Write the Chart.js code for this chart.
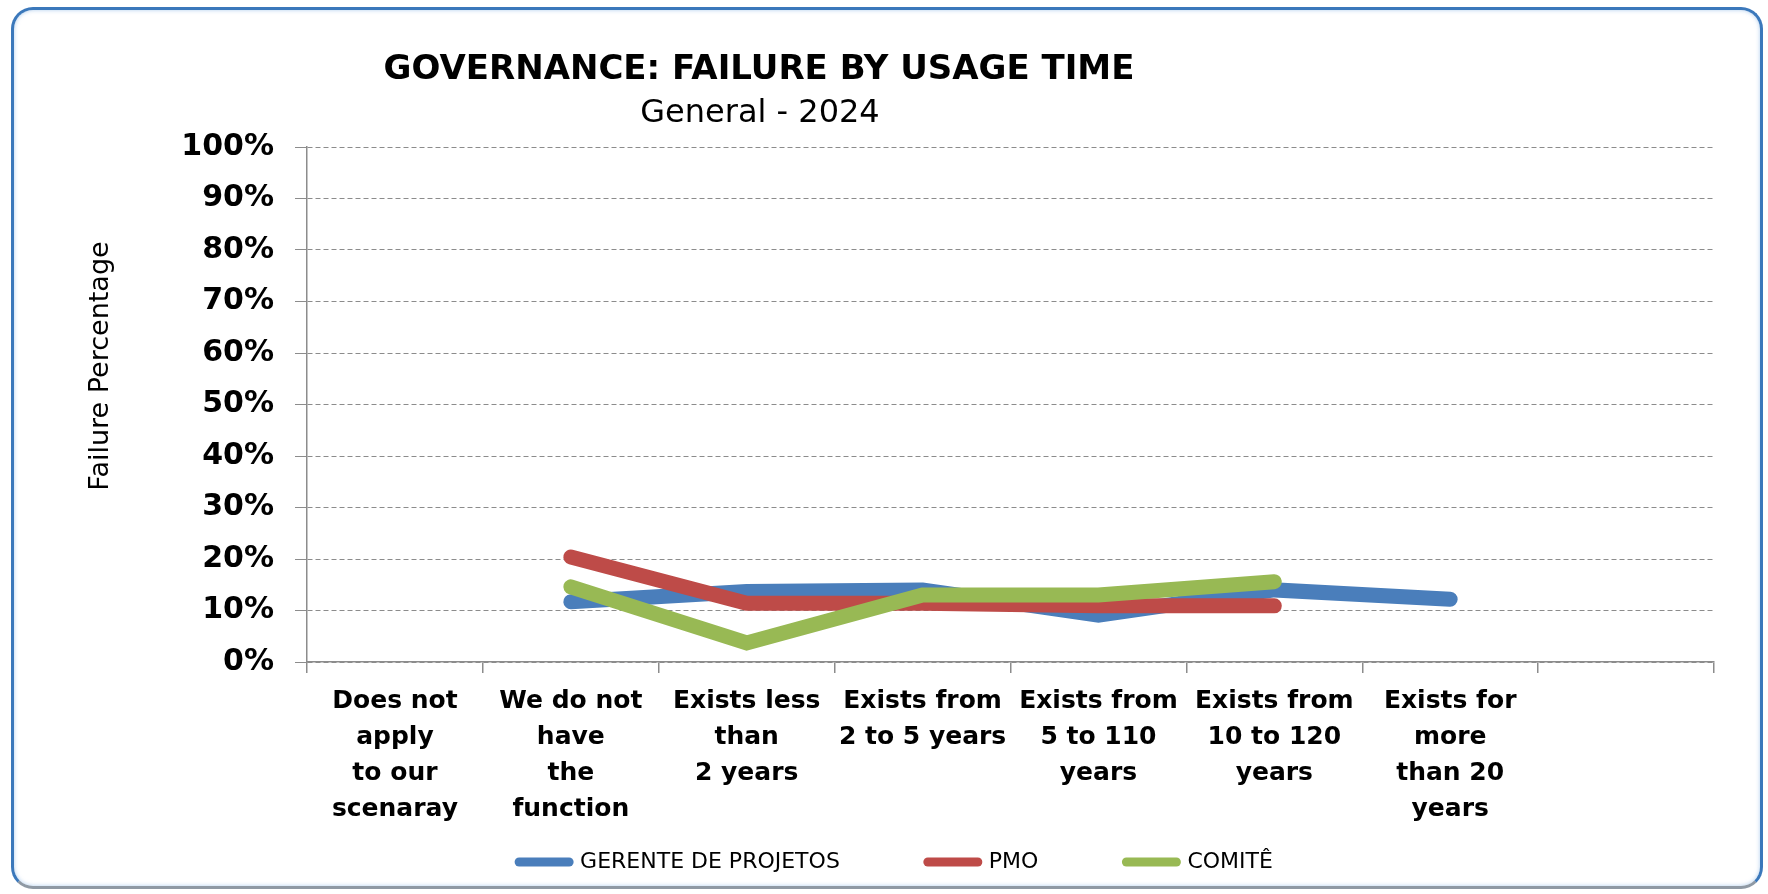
<!DOCTYPE html>
<html>
<head>
<meta charset="utf-8">
<script src="https://cdn.jsdelivr.net/npm/chart.js@4.4.1/dist/chart.umd.min.js"></script>
<style>
  body { margin: 0; background: #fff; }
  #wrap { position: relative; width: 1768px; height: 894px; }
  #frame {
    position: absolute; left: 11px; top: 7px; width: 1746px; height: 876px;
    border: 3px solid #3b78bb; border-bottom-color: #8f99a4; border-radius: 22px;
    box-shadow: inset 0 0 4px rgba(120, 170, 225, 0.6); pointer-events: none;
  }
</style>
</head>
<body>
<div id="wrap">
  <canvas id="chart"></canvas>
  <div id="frame"></div>
</div>
<script>
const categories = [
    ['Does not', 'apply', 'to our', 'scenaray'],
    ['We do not', 'have', 'the', 'function'],
    ['Exists less', 'than', '2 years'],
    ['Exists from', '2 to 5 years'],
    ['Exists from', '5 to 110', 'years'],
    ['Exists from', '10 to 120', 'years'],
    ['Exists for', 'more', 'than 20', 'years'],
    ''
];
const gerente = [null, 11.7, 13.7, 14.0, 9.1, 14.0, 12.2, null];
const pmo = [null, 20.4, 11.4, 11.4, 10.9, 10.9, null, null];
const comite = [null, 14.6, 3.7, 13.0, 13.0, 15.6, null, null];
const seriesNames = ['GERENTE DE PROJETOS', 'PMO', 'COMITÊ'];
const seriesColors = ['#4a7ebb', '#be4b48', '#98b954'];

const chartTitle = 'GOVERNANCE: FAILURE BY USAGE TIME';
const chartSubtitle = 'General - 2024';
const yAxisTitle = 'Failure Percentage';

const FONT = 'DejaVu Sans';
const GRID = '#8c8c8c';
const LEGEND_Y = 862;

// title, subtitle and the y axis title sit off-centre in the original
const chartText = {
    id: 'chartText',
    afterDraw(chart) {
        const ctx = chart.ctx;
        ctx.save();
        ctx.fillStyle = '#000';
        ctx.textAlign = 'center';
        ctx.textBaseline = 'middle';
        ctx.font = `bold 34px "${FONT}"`;
        ctx.fillText(chartTitle, 759, 70);
        ctx.font = `32px "${FONT}"`;
        ctx.fillText(chartSubtitle, 760, 114);
        ctx.translate(101, 366);
        ctx.rotate(-Math.PI / 2);
        ctx.font = `27px "${FONT}"`;
        ctx.fillText(yAxisTitle, 0, 0);
        ctx.restore();
    }
};

// wide gaps between legend items need a big padding; keep the box short and put the row where it belongs
const legendPlace = {
    id: 'legendPlace',
    beforeLayout(chart) {
        const lg = chart.legend;
        if (lg && !lg._patched) {
            const fit = lg.fit;
            lg.fit = function () { fit.call(this); this.height = 57; };
            lg._patched = true;
        }
    },
    afterLayout(chart) {
        const lg = chart.legend;
        const pad = lg.options.labels.padding;
        lg.top = LEGEND_Y - 11 - pad;
        lg.bottom = chart.height;
        lg.height = lg.bottom - lg.top;
    }
};

function makeSet(i, data, order) {
    return {
        label: seriesNames[i],
        data: data,
        borderColor: seriesColors[i],
        backgroundColor: seriesColors[i],
        borderWidth: 15,
        borderCapStyle: 'round',
        tension: 0,
        pointRadius: 0,
        order: order
    };
}

new Chart(document.getElementById('chart').getContext('2d'), {
    type: 'line',
    data: {
        labels: categories,
        datasets: [makeSet(0, gerente, 2), makeSet(1, pmo, 1), makeSet(2, comite, 0)]
    },
    options: {
        responsive: true,
        maintainAspectRatio: false,
        animation: false,
        events: [],
        layout: { padding: { left: 78, top: 147, right: 54, bottom: 0 } },
        plugins: {
            title: { display: false },
            tooltip: { enabled: false },
            legend: {
                position: 'bottom',
                labels: {
                    color: '#000',
                    font: { family: FONT, size: 22 },
                    padding: 88,
                    usePointStyle: true,
                    pointStyleWidth: 50,
                    sort: (a, b) => a.datasetIndex - b.datasetIndex,
                    generateLabels: (chart) => {
                        const items = Chart.defaults.plugins.legend.labels.generateLabels(chart);
                        return items.map(it => Object.assign(it, {
                            pointStyle: 'line',
                            lineWidth: 9,
                            lineCap: 'round',
                            strokeStyle: seriesColors[it.datasetIndex]
                        }));
                    }
                }
            }
        },
        scales: {
            x: {
                offset: true,
                grid: { offset: true, drawOnChartArea: false, tickLength: 11, color: GRID, lineWidth: 1.5 },
                border: { display: true, color: GRID, width: 1.5 },
                ticks: {
                    color: '#000',
                    font: { family: FONT, weight: 'bold', size: 25, lineHeight: 1.44 },
                    padding: 10,
                    maxRotation: 0,
                    autoSkip: false
                }
            },
            y: {
                min: 0,
                max: 100,
                ticks: {
                    stepSize: 10,
                    color: '#000',
                    font: { family: FONT, weight: 'bold', size: 30 },
                    padding: 21,
                    callback: (value) => value + '%'
                },
                grid: { color: GRID, lineWidth: 1, tickLength: 12, tickColor: GRID },
                border: { display: true, color: GRID, width: 1.5, dash: [5, 3] },
                afterFit: (scale) => { scale.width = 229; }
            }
        }
    },
    plugins: [chartText, legendPlace]
});
</script>
</body>
</html>
